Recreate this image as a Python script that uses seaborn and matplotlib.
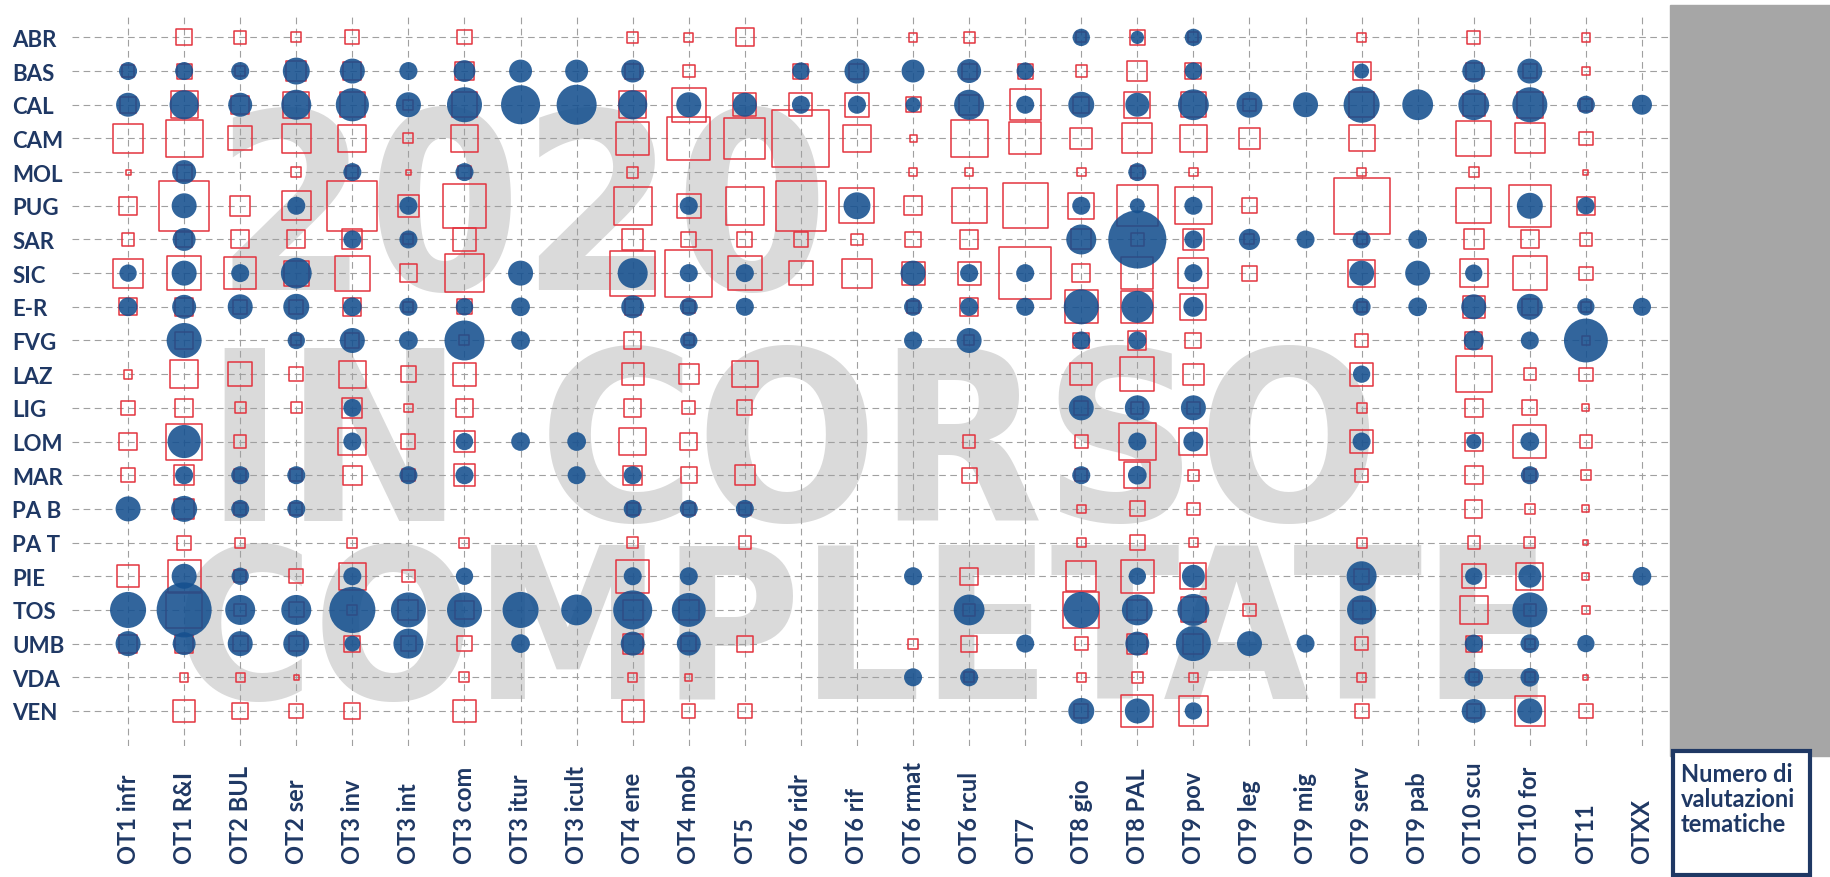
import numpy as np
import pandas as pd
import matplotlib
matplotlib.use("Agg")
import matplotlib.pyplot as plt
import seaborn as sns
from matplotlib import font_manager
from matplotlib.patches import Rectangle

# regioni (righe) e temi (colonne)
regioni = ["ABR", "BAS", "CAL", "CAM", "MOL", "PUG", "SAR", "SIC", "E-R", "FVG", "LAZ",
           "LIG", "LOM", "MAR", "PA B", "PA T", "PIE", "TOS", "UMB", "VDA", "VEN"]
temi = ["OT1 infr", "OT1 R&I", "OT2 BUL", "OT2 ser", "OT3 inv", "OT3 int", "OT3 com",
        "OT3 itur", "OT3 icult", "OT4 ene", "OT4 mob", "OT5", "OT6 ridr", "OT6 rif",
        "OT6 rmat", "OT6 rcul", "OT7", "OT8 gio", "OT8 PAL", "OT9 pov", "OT9 leg",
        "OT9 mig", "OT9 serv", "OT9 pab", "OT10 scu", "OT10 for", "OT11", "OTXX"]

# valutazioni completate (cerchi blu)
completate = [
    [0,0,0,0,0,0,0,0,0,0,0,0,0,0,0,0,0,12,7,12,0,0,0,0,0,0,0,0],
    [13,13,13,29,25,13,19,21,21,21,0,0,12,25,21,23,12,0,0,12,0,0,9,0,21,25,0,0],
    [23,34,23,36,44,25,49,61,64,34,25,23,13,13,9,36,13,27,23,38,27,25,52,38,38,49,13,16],
    [0,0,0,0,0,0,0,0,0,0,0,0,0,0,0,0,0,0,0,0,0,0,0,0,0,0,0,0],
    [0,23,0,0,13,0,13,0,0,0,0,0,0,0,0,0,0,0,13,0,0,0,0,0,0,0,0,0],
    [0,25,0,13,0,13,0,0,0,0,13,0,0,29,0,0,0,13,9,13,0,0,0,0,0,27,12,0],
    [0,21,0,0,13,13,0,0,0,0,0,0,0,0,0,0,0,36,135,13,18,13,13,14,0,0,0,0],
    [12,25,13,38,0,0,0,25,0,36,13,13,0,0,25,13,13,0,0,13,0,0,25,25,12,0,0,0],
    [14,23,25,27,14,13,12,14,0,21,13,13,0,0,13,13,13,49,41,16,0,0,13,14,25,27,12,13],
    [0,49,0,12,25,14,64,14,0,0,12,0,0,0,13,25,0,13,13,0,0,0,0,0,16,13,77,0],
    [0,0,0,0,0,0,0,0,0,0,0,0,0,0,0,0,0,0,0,0,0,0,12,0,0,0,0,0],
    [0,0,0,0,13,0,0,0,0,0,0,0,0,0,0,0,0,25,25,25,0,0,0,0,0,0,0,0],
    [0,44,0,0,13,0,12,14,14,0,0,0,0,0,0,0,0,0,13,16,0,0,13,0,9,14,0,0],
    [0,13,13,13,0,13,13,0,13,13,0,0,0,0,0,0,0,13,14,0,0,0,0,0,0,13,0,0],
    [25,27,13,13,0,0,0,0,0,13,13,13,0,0,0,0,0,0,0,0,0,0,0,0,0,0,0,0],
    [0,0,0,0,0,0,0,0,0,0,0,0,0,0,0,0,0,0,0,0,0,0,0,0,0,0,0,0],
    [0,25,12,0,13,0,12,0,0,13,13,0,0,0,13,0,0,0,12,21,0,0,36,0,12,21,0,14],
    [52,121,36,36,85,49,49,52,38,61,46,0,0,0,0,38,0,52,38,41,0,0,34,0,0,49,0,0],
    [25,21,25,27,10,36,0,14,0,23,23,0,0,0,0,0,13,0,23,49,25,13,0,0,13,14,12,0],
    [0,0,0,0,0,0,0,0,0,0,0,0,0,0,13,13,0,0,0,0,0,0,0,0,14,14,0,0],
    [0,0,0,0,0,0,0,0,0,0,0,0,0,0,0,0,0,27,25,12,0,0,0,0,23,25,0,0],
]

# valutazioni in corso (quadrati rossi)
in_corso = [
    [0,10,6,4,8,0,8,0,0,5,3,13,0,0,3,5,0,4,9,4,0,0,3,0,7,0,3,0],
    [6,9,4,16,13,0,13,0,0,9,6,0,9,9,0,9,9,5,16,10,0,0,13,0,10,8,3,0],
    [10,29,13,27,25,4,25,0,0,29,46,21,21,23,9,16,38,10,27,25,6,0,25,0,19,27,6,0],
    [34,55,23,34,31,4,31,0,0,44,74,67,130,31,2,55,41,19,36,29,18,0,27,0,49,36,7,0],
    [1,9,0,4,6,1,6,0,0,5,0,0,0,0,3,3,0,3,6,3,0,0,3,0,4,0,1,0],
    [13,100,16,34,100,19,77,0,0,58,23,58,100,49,14,49,81,27,67,55,9,0,125,0,49,71,13,0],
    [6,10,13,13,16,4,21,0,0,18,9,9,8,5,10,14,0,16,7,19,4,0,4,0,16,13,6,0],
    [34,46,41,25,49,12,58,0,0,81,88,46,23,34,21,21,108,13,41,36,9,0,29,0,31,46,7,0],
    [12,13,8,8,13,4,9,0,0,10,6,0,0,0,6,13,0,44,41,27,0,0,4,0,19,10,4,0],
    [0,12,0,4,8,0,4,0,0,12,4,0,0,0,0,4,0,10,13,10,0,0,7,0,12,0,3,0],
    [3,31,23,8,29,10,21,0,0,19,16,27,0,0,0,0,0,19,46,18,0,0,21,0,52,6,7,0],
    [8,12,5,5,16,3,12,0,0,12,7,9,0,0,0,0,0,8,6,6,0,0,4,0,13,9,2,0],
    [12,52,6,0,31,8,19,0,0,29,12,0,0,0,0,6,0,7,55,31,0,0,21,0,13,44,6,0],
    [8,16,6,6,14,6,19,0,0,14,10,16,0,0,0,9,0,6,27,5,0,0,7,0,13,6,4,0],
    [0,16,6,6,0,0,0,0,0,6,6,6,0,0,0,0,0,3,9,6,0,0,0,0,12,4,2,0],
    [0,8,4,0,4,0,4,0,0,5,0,6,0,0,0,0,0,3,9,3,0,0,4,0,6,5,1,0],
    [19,44,6,8,29,6,0,0,0,44,0,0,0,0,0,12,0,36,44,27,0,0,9,0,23,29,2,0],
    [0,52,6,9,4,16,13,0,0,16,16,0,0,0,0,6,0,52,16,25,6,0,13,0,31,6,3,0],
    [13,13,9,9,10,9,9,0,0,16,9,10,0,0,4,10,0,7,16,16,0,0,7,0,10,4,0,0],
    [0,3,3,1,0,0,4,0,0,3,2,0,0,0,0,4,0,3,5,3,0,0,3,0,4,4,1,0],
    [0,19,10,8,10,0,21,0,0,19,7,8,0,0,0,0,0,8,41,34,0,0,8,0,8,36,7,0],
]

watermark = ["2020", "IN CORSO", "COMPLETATE"]
legenda = "Numero di\nvalutazioni\ntematiche"


def to_long(matrix):
    df = pd.DataFrame(matrix, index=regioni, columns=temi)
    df = df.reset_index(names="regione").melt(id_vars="regione", var_name="tema", value_name="n")
    df = df[df["n"] > 0].copy()
    df["regione"] = pd.Categorical(df["regione"], categories=regioni)
    df["tema"] = pd.Categorical(df["tema"], categories=temi)
    return df


def pick_condensed_bold():
    # cerca un font stretto in grassetto, se c'e'
    for f in font_manager.fontManager.ttflist:
        narrow = (str(f.stretch) in ("condensed", "semi-condensed", "extra-condensed")
                  or "Narrow" in f.name or "Condensed" in f.name)
        w = f.weight
        if isinstance(w, str):
            w = font_manager.weight_dict.get(w, 400)
        if narrow and w >= 600 and f.style == "normal":
            return font_manager.FontProperties(fname=f.fname)
    return None


df_comp = to_long(completate)
df_corso = to_long(in_corso)

available = {f.name for f in font_manager.fontManager.ttflist}
label_font = "Lato" if "Lato" in available else "DejaVu Sans"
wm_fp = pick_condensed_bold()
if wm_fp is None:
    wm_fp = font_manager.FontProperties(family=label_font, weight="bold")

navy = "#1F3864"
blue = "#15508F"
red = "#E3343F"

fig = plt.figure(figsize=(18.31, 8.78), dpi=100)
W, H = 1831, 878
ax = fig.add_axes([72 / W, 1 - 747 / H, (1670 - 72) / W, (747 - 17.5) / H])
ax.set_facecolor("white")

# ordine delle categorie sui due assi
ax.xaxis.update_units(np.array(temi))
ax.yaxis.update_units(np.array(regioni))

vmax = 135
smax = (0.72 * 5) ** 2 * vmax

sns.scatterplot(data=df_corso, x="tema", y="regione", size="n", sizes=(0, smax),
                size_norm=(0, vmax), marker="s", color=red, facecolor="none",
                edgecolor=red, linewidth=1.1, legend=False, ax=ax, zorder=2)
sns.scatterplot(data=df_comp, x="tema", y="regione", size="n", sizes=(0, smax),
                size_norm=(0, vmax), marker="o", color=blue, edgecolor="none",
                linewidth=0, alpha=0.88, legend=False, ax=ax, zorder=3)

ax.set_xlim(-1.0, 27.5)
ax.set_ylim(21.04, -0.62)
ax.set_xticks(range(len(temi)))
ax.set_xticklabels(temi, rotation=90, va="bottom", ha="center",
                   fontsize=17, fontweight="bold", color=navy, family=label_font)
ax.set_yticks(range(len(regioni)))
ax.set_yticklabels(regioni, ha="left", fontsize=16, fontweight="bold",
                   color=navy, family=label_font)
ax.tick_params(axis="x", length=0, pad=84)
ax.tick_params(axis="y", length=0, pad=43)
ax.set_xlabel("")
ax.set_ylabel("")
for s in ax.spines.values():
    s.set_visible(False)

ax.grid(True, linestyle=(0, (6, 4)), color="#A0A0A0", linewidth=0.8)
ax.set_axisbelow(True)

# scritte in filigrana, adattate alla larghezza voluta (pixel della figura)
renderer = fig.canvas.get_renderer()
wm_boxes = [(215, 830, 290), (205, 1380, 521), (175, 1553, 699)]
for txt, (x0, x1, base) in zip(watermark, wm_boxes):
    t = ax.text(x0 / W, 1 - base / H, txt, transform=fig.transFigure, ha="left",
                va="baseline", fontproperties=wm_fp, color="#DADADA", zorder=0.1)
    t.set_fontsize(100)
    w = t.get_window_extent(renderer).width
    t.set_fontsize(100 * (x1 - x0) / w)

# barra grigia e riquadro legenda
fig.patches.append(Rectangle((1670 / W, 1 - 757 / H), 161 / W, 751 / H,
                             transform=fig.transFigure, color="#A6A6A6", zorder=0))
fig.patches.append(Rectangle((1673 / W, 2 / H), 137 / W, 124 / H,
                             transform=fig.transFigure, facecolor="white",
                             edgecolor=navy, linewidth=3, zorder=1))
fig.text(1681 / W, 1 - 763 / H, legenda, ha="left", va="top", fontsize=17,
         fontweight="bold", color=navy, family=label_font, linespacing=1.1)

fig.savefig("out.png", dpi=100)
